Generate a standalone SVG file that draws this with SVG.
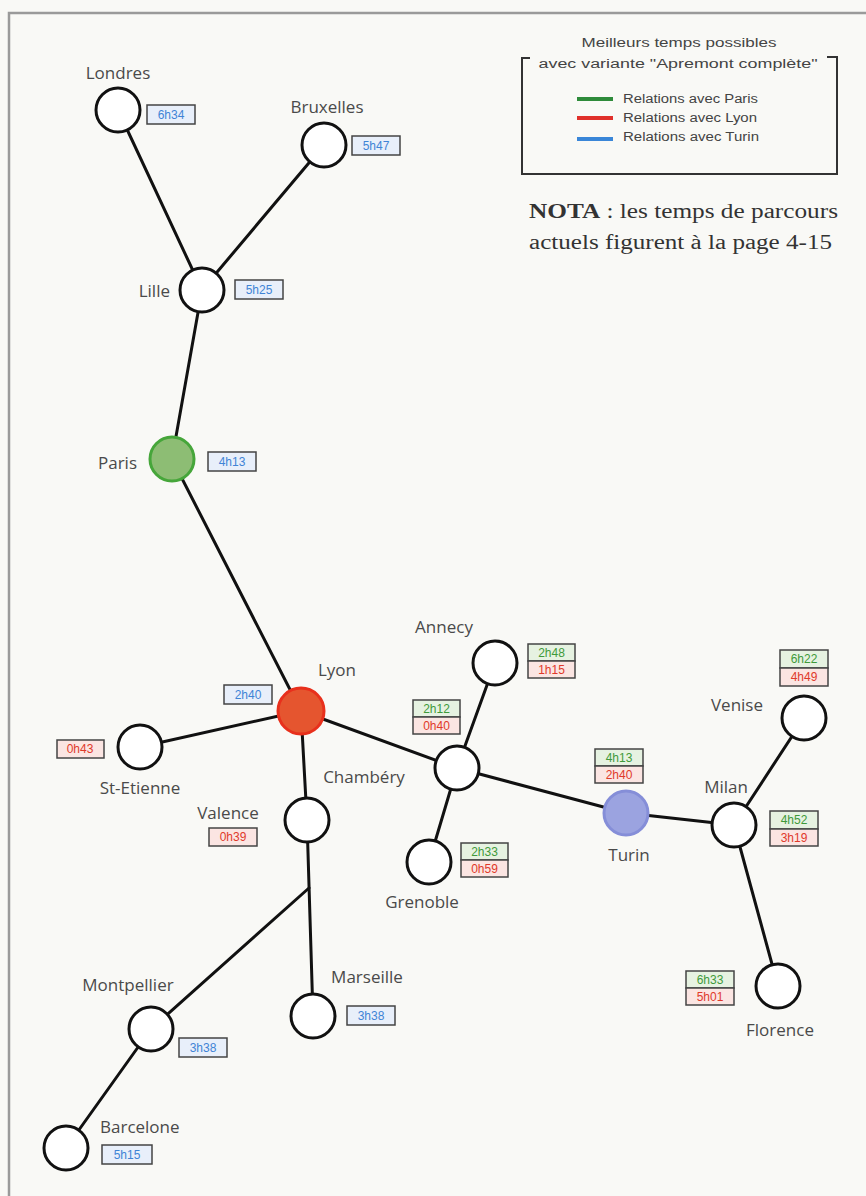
<svg xmlns="http://www.w3.org/2000/svg" width="866" height="1196" viewBox="0 0 866 1196">
<style>
.lbl{font-family:"Open Sans","Liberation Sans",sans-serif;font-size:17px;fill:#4a4a4a}
.tb{font-family:"Liberation Sans",Arial,sans-serif;font-size:12px;font-stretch:condensed;text-anchor:middle}
.node{fill:#fff;stroke:#111;stroke-width:3}
.edge{stroke:#111;stroke-width:3;fill:none;stroke-linecap:round}
.bx{stroke:#444;stroke-width:1.5}
.b{fill:#e8effa}.g{fill:#e6f2e1}.r{fill:#fbe5e2}
.tB{fill:#3f84d6}.tG{fill:#3f9a3a}.tR{fill:#e0392a}
.leg{font-family:"Liberation Sans",Arial,sans-serif;font-size:12px;fill:#444}
</style>
<rect width="866" height="1196" fill="#f9f9f6"/>
<path d="M9 1196 V13 H866" fill="none" stroke="#9a9a9a" stroke-width="2.5"/>

<g id="legend">
<text class="leg" x="679" y="47" text-anchor="middle" textLength="195" lengthAdjust="spacingAndGlyphs">Meilleurs temps possibles</text>
<text class="leg" x="678" y="68" text-anchor="middle" textLength="279" lengthAdjust="spacingAndGlyphs">avec variante "Apremont complète"</text>
<path d="M530 58 H522 V174 H837 V57 H827" fill="none" stroke="#333" stroke-width="2"/>
<line x1="577" y1="99" x2="613" y2="99" stroke="#2e8b3a" stroke-width="4"/>
<line x1="577" y1="118" x2="613" y2="118" stroke="#e0302a" stroke-width="4"/>
<line x1="577" y1="139" x2="613" y2="139" stroke="#3a86d8" stroke-width="4"/>
<text class="leg" x="623" y="103" textLength="135" lengthAdjust="spacingAndGlyphs">Relations avec Paris</text>
<text class="leg" x="623" y="122" textLength="134" lengthAdjust="spacingAndGlyphs">Relations avec Lyon</text>
<text class="leg" x="623" y="141" textLength="136" lengthAdjust="spacingAndGlyphs">Relations avec Turin</text>
</g>

<g id="nota" font-family="'Liberation Serif','Times New Roman',serif" font-size="20" fill="#333">
<text x="529" y="218" textLength="309" lengthAdjust="spacingAndGlyphs"><tspan font-weight="bold">NOTA</tspan> : les temps de parcours</text>
<text x="529" y="249" textLength="303" lengthAdjust="spacingAndGlyphs">actuels figurent à la page 4-15</text>
</g>

<g id="connectors">
<line class="edge" x1="118" y1="110" x2="202" y2="290"/>
<line class="edge" x1="324" y1="145" x2="202" y2="290"/>
<line class="edge" x1="202" y1="290" x2="172" y2="459"/>
<line class="edge" x1="172" y1="459" x2="301" y2="711"/>
<line class="edge" x1="301" y1="711" x2="140" y2="747"/>
<line class="edge" x1="301" y1="711" x2="307" y2="820"/>
<line class="edge" x1="301" y1="711" x2="457" y2="768"/>
<line class="edge" x1="457" y1="768" x2="495" y2="663"/>
<line class="edge" x1="457" y1="768" x2="429" y2="862"/>
<line class="edge" x1="457" y1="768" x2="626" y2="813"/>
<line class="edge" x1="626" y1="813" x2="734" y2="825"/>
<line class="edge" x1="734" y1="825" x2="804" y2="718"/>
<line class="edge" x1="734" y1="825" x2="778" y2="986"/>
<line class="edge" x1="307" y1="820" x2="313" y2="1016"/>
<line class="edge" x1="309" y1="888" x2="151" y2="1029"/>
<line class="edge" x1="151" y1="1029" x2="66" y2="1148"/>
</g>

<g id="londres"><circle class="node" cx="118" cy="110" r="22"/><text class="lbl" x="118" y="79" text-anchor="middle">Londres</text>
<rect class="bx b" x="147" y="105" width="48" height="19"/><text class="tb tB" x="171" y="119">6h34</text></g>

<g id="bruxelles"><circle class="node" cx="324" cy="145" r="22"/><text class="lbl" x="327" y="113" text-anchor="middle">Bruxelles</text>
<rect class="bx b" x="352" y="136" width="48" height="19"/><text class="tb tB" x="376" y="150">5h47</text></g>

<g id="lille"><circle class="node" cx="202" cy="290" r="22"/><text class="lbl" x="170" y="297" text-anchor="end">Lille</text>
<rect class="bx b" x="235" y="280" width="48" height="19"/><text class="tb tB" x="259" y="294">5h25</text></g>

<g id="paris"><circle cx="172" cy="459" r="22" fill="#8dbd74" stroke="#46a63a" stroke-width="3"/><text class="lbl" x="137" y="469" text-anchor="end">Paris</text>
<rect class="bx b" x="208" y="452" width="48" height="19"/><text class="tb tB" x="232" y="466">4h13</text></g>

<g id="lyon"><circle cx="301" cy="711" r="23" fill="#e5552f" stroke="#e8301c" stroke-width="3"/><text class="lbl" x="337" y="676" text-anchor="middle">Lyon</text>
<rect class="bx b" x="224" y="685" width="48" height="19"/><text class="tb tB" x="248" y="699">2h40</text></g>

<g id="st-etienne"><circle class="node" cx="140" cy="747" r="22"/><text class="lbl" x="140" y="794" text-anchor="middle">St-Etienne</text>
<rect class="bx r" x="57" y="740" width="47" height="18"/><text class="tb tR" x="80" y="753">0h43</text></g>

<g id="valence"><circle class="node" cx="307" cy="820" r="22"/><text class="lbl" x="228" y="819" text-anchor="middle">Valence</text>
<rect class="bx r" x="209" y="828" width="48" height="18"/><text class="tb tR" x="233" y="841">0h39</text></g>

<g id="chambery"><circle class="node" cx="457" cy="768" r="22"/><text class="lbl" x="364" y="783" text-anchor="middle">Chambéry</text>
<rect class="bx g" x="413" y="700" width="47" height="17"/><text class="tb tG" x="436.5" y="713">2h12</text>
<rect class="bx r" x="413" y="717" width="47" height="17"/><text class="tb tR" x="436.5" y="730">0h40</text></g>

<g id="annecy"><circle class="node" cx="495" cy="663" r="22"/><text class="lbl" x="444" y="633" text-anchor="middle">Annecy</text>
<rect class="bx g" x="528" y="644" width="47" height="17"/><text class="tb tG" x="551.5" y="657">2h48</text>
<rect class="bx r" x="528" y="661" width="47" height="17"/><text class="tb tR" x="551.5" y="674">1h15</text></g>

<g id="grenoble"><circle class="node" cx="429" cy="862" r="22"/><text class="lbl" x="422" y="908" text-anchor="middle">Grenoble</text>
<rect class="bx g" x="461" y="843" width="47" height="17"/><text class="tb tG" x="484.5" y="856">2h33</text>
<rect class="bx r" x="461" y="860" width="47" height="17"/><text class="tb tR" x="484.5" y="873">0h59</text></g>

<g id="turin"><circle cx="626" cy="813" r="22" fill="#9ba3e0" stroke="#858ed8" stroke-width="3"/><text class="lbl" x="629" y="861" text-anchor="middle">Turin</text>
<rect class="bx g" x="595" y="749" width="48" height="17"/><text class="tb tG" x="619" y="762">4h13</text>
<rect class="bx r" x="595" y="766" width="48" height="17"/><text class="tb tR" x="619" y="779">2h40</text></g>

<g id="milan"><circle class="node" cx="734" cy="825" r="22"/><text class="lbl" x="726" y="793" text-anchor="middle">Milan</text>
<rect class="bx g" x="770" y="811" width="48" height="18"/><text class="tb tG" x="794" y="824">4h52</text>
<rect class="bx r" x="770" y="829" width="48" height="17"/><text class="tb tR" x="794" y="842">3h19</text></g>

<g id="venise"><circle class="node" cx="804" cy="718" r="22"/><text class="lbl" x="737" y="711" text-anchor="middle">Venise</text>
<rect class="bx g" x="780" y="650" width="48" height="18"/><text class="tb tG" x="804" y="663">6h22</text>
<rect class="bx r" x="780" y="668" width="48" height="18"/><text class="tb tR" x="804" y="681">4h49</text></g>

<g id="florence"><circle class="node" cx="778" cy="986" r="22"/><text class="lbl" x="780" y="1036" text-anchor="middle">Florence</text>
<rect class="bx g" x="686" y="971" width="48" height="17"/><text class="tb tG" x="710" y="984">6h33</text>
<rect class="bx r" x="686" y="988" width="48" height="17"/><text class="tb tR" x="710" y="1001">5h01</text></g>

<g id="marseille"><circle class="node" cx="313" cy="1016" r="22"/><text class="lbl" x="367" y="983" text-anchor="middle">Marseille</text>
<rect class="bx b" x="347" y="1006" width="48" height="19"/><text class="tb tB" x="371" y="1020">3h38</text></g>

<g id="montpellier"><circle class="node" cx="151" cy="1029" r="22"/><text class="lbl" x="128" y="991" text-anchor="middle">Montpellier</text>
<rect class="bx b" x="179" y="1038" width="48" height="19"/><text class="tb tB" x="203" y="1052">3h38</text></g>

<g id="barcelone"><circle class="node" cx="66" cy="1148" r="22"/><text class="lbl" x="100" y="1133">Barcelone</text>
<rect class="bx b" x="102" y="1145" width="50" height="19"/><text class="tb tB" x="127" y="1159">5h15</text></g>
</svg>
